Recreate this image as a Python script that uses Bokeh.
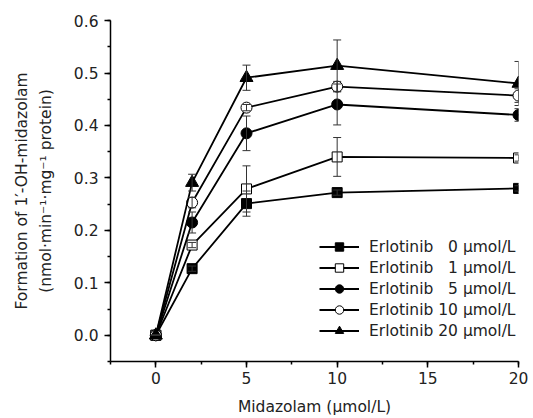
from bokeh.plotting import figure
from bokeh.models import (ColumnDataSource, Whisker, TeeHead, Range1d, Legend, LegendItem,
                          SingleIntervalTicker, PrintfTickFormatter, LinearAxis, FixedTicker)
from bokeh.embed import file_html
from bokeh.resources import INLINE

# ---- data ----
midazolam = [0, 2, 5, 10, 20]
labels = ["Erlotinib \u20070 μmol/L", "Erlotinib \u20071 μmol/L", "Erlotinib \u20075 μmol/L",
          "Erlotinib 10 μmol/L", "Erlotinib 20 μmol/L"]
erl0 = [0.0, 0.127, 0.251, 0.272, 0.280]
erl0_err = [0.0, 0.005, 0.024, 0.005, 0.005]
erl1 = [0.0, 0.172, 0.279, 0.340, 0.338]
erl1_err = [0.0, 0.005, 0.044, 0.037, 0.006]
erl5 = [0.0, 0.215, 0.385, 0.440, 0.420]
erl5_err = [0.0, 0.020, 0.033, 0.039, 0.012]
erl10 = [0.0, 0.253, 0.434, 0.474, 0.457]
erl10_err = [0.0, 0.010, 0.006, 0.010, 0.013]
erl20 = [0.0, 0.291, 0.491, 0.514, 0.480]
erl20_err = [0.0, 0.016, 0.024, 0.049, 0.042]

series = [erl0, erl1, erl5, erl10, erl20]
errors = [erl0_err, erl1_err, erl5_err, erl10_err, erl20_err]
markers = ["square", "square", "circle", "circle", "triangle"]
fills = ["black", "white", "black", "white", "black"]
sizes = [10, 10, 11, 11, 13]

FONT = "DejaVu Sans"
FS = "15.5px"
TXT = "#222222"

p = figure(width=533, height=418, x_range=Range1d(-2.5, 20), y_range=Range1d(-0.05, 0.6001),
           output_backend="svg", toolbar_location=None,
           min_border_left=110, min_border_right=15, min_border_top=20, min_border_bottom=57)
p.outline_line_color = None
p.grid.visible = False
p.background_fill_color = "white"

p.xaxis.ticker = SingleIntervalTicker(interval=5, num_minor_ticks=2)
p.yaxis.ticker = SingleIntervalTicker(interval=0.1, num_minor_ticks=2)
p.yaxis.formatter = PrintfTickFormatter(format="%.1f")

for ax in (p.xaxis[0], p.yaxis[0]):
    ax.axis_line_width = 1.5
    ax.axis_line_color = "black"
    ax.major_tick_line_width = 1.5
    ax.minor_tick_line_width = 1.5
    ax.major_tick_line_color = "black"
    ax.minor_tick_line_color = "black"
    ax.major_tick_out = 6
    ax.major_tick_in = 0
    ax.minor_tick_out = 3
    ax.minor_tick_in = 0
    ax.major_label_text_font = FONT
    ax.major_label_text_font_size = FS
    ax.major_label_text_color = TXT
    ax.axis_label_text_font = FONT
    ax.axis_label_text_font_size = FS
    ax.axis_label_text_font_style = "normal"
    ax.axis_label_text_color = TXT

p.xaxis.axis_label = "Midazolam (μmol/L)"
p.xaxis.major_label_standoff = 4
p.xaxis.axis_label_standoff = 11
p.yaxis.axis_label = "(nmol·min\u207b\u00b9·mg\u207b\u00b9 protein)"
p.yaxis.major_label_standoff = 6
p.yaxis.axis_label_standoff = 16

# first line of the y-axis title, on an extra bare axis further left
ax2 = LinearAxis(ticker=FixedTicker(ticks=[]), axis_line_color=None,
                 major_tick_line_color=None, minor_tick_line_color=None,
                 major_label_text_font_size="0px",
                 axis_label="Formation of 1\u2032-OH-midazolam",
                 axis_label_text_font=FONT, axis_label_text_font_size=FS,
                 axis_label_text_font_style="normal", axis_label_text_color=TXT,
                 axis_label_standoff=3)
p.add_layout(ax2, "left")

items = []
for ys, es, mk, fc, sz, lab in zip(series, errors, markers, fills, sizes, labels):
    src = ColumnDataSource(dict(x=midazolam, y=ys,
                                upper=[a + b for a, b in zip(ys, es)],
                                lower=[a - b for a, b in zip(ys, es)]))
    lr = p.line("x", "y", source=src, line_color="black", line_width=1.8)
    w = Whisker(source=src, base="x", upper="upper", lower="lower", dimension="height",
                line_color="#333333", line_width=1,
                upper_head=TeeHead(size=8, line_color="#333333", line_width=1),
                lower_head=TeeHead(size=8, line_color="#333333", line_width=1),
                level="overlay")
    sr = p.scatter("x", "y", source=src, marker=mk, size=sz, fill_color=fc,
                   line_color="black", line_width=1)
    p.add_layout(w)
    items.append(LegendItem(label=lab, renderers=[lr, sr]))

legend = Legend(items=items, location=(209, 20), border_line_color=None,
                background_fill_alpha=0, padding=0, spacing=0, margin=0,
                glyph_width=40, glyph_height=21, label_height=21, label_standoff=10,
                label_text_font=FONT, label_text_font_size=FS,
                label_text_color=TXT)
p.add_layout(legend)

open("out.html", "w").write(file_html(p, INLINE))
